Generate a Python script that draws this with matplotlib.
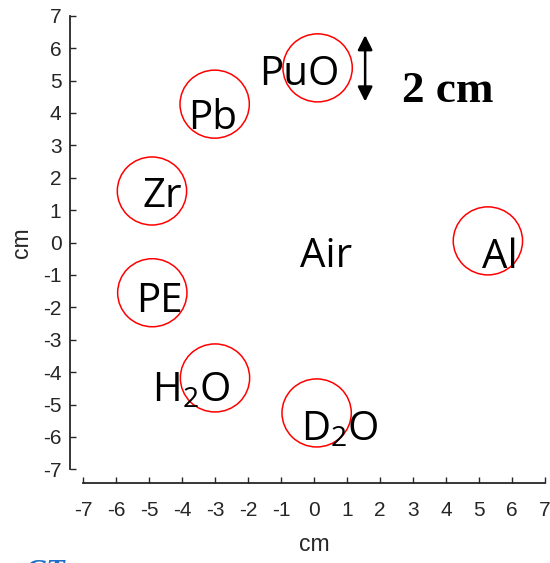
import matplotlib
matplotlib.use("Agg")
from matplotlib import pyplot as plt
from matplotlib.patches import Circle

plt.rcParams['font.family'] = ['Liberation Sans', 'DejaVu Sans']
plt.rcParams['axes.unicode_minus'] = False

# sample positions (cm) and where each material name sits
materials = ['PuO', 'Pb', 'Zr', 'PE', r'H$_\mathregular{2}$O', r'D$_\mathregular{2}$O', 'Al']
circle_x = [0.11, -3.01, -4.91, -4.90, -3.00, 0.08, 5.27]
circle_y = [5.39, 4.27, 1.59, -1.55, -4.18, -5.26, 0.05]
label_x = [-0.44, -3.06, -4.61, -4.67, -3.71, 0.78, 5.64]
label_y = [4.86, 3.49, 1.10, -2.14, -4.91, -6.10, -0.79]
radius = 1.05

air_x, air_y = 0.36, -0.75

# scale bar
bar_x = 1.55
bar_y = [4.35, 6.40]
bar_text = '2 cm'

ticks = list(range(-7, 8))

fig = plt.figure(figsize=(5.5, 5.63), dpi=100)
ax = fig.add_axes([0.1509, 0.1664, 0.84, 0.8057])
ax.set_xlim(-7, 7)
ax.set_ylim(-7, 7)

for cx, cy in zip(circle_x, circle_y):
    ax.add_patch(Circle((cx, cy), radius, fill=False, edgecolor='#ff0000', linewidth=1.1))

for name, lx, ly in zip(materials, label_x, label_y):
    ax.text(lx, ly, name, ha='center', va='baseline', fontsize=29,
            family='Open Sans', color='black')
ax.text(air_x, air_y, 'Air', ha='center', va='baseline', fontsize=29,
        family='Open Sans', color='black')

ax.annotate('', xy=(bar_x, bar_y[1]), xytext=(bar_x, bar_y[0]),
            arrowprops=dict(arrowstyle='<|-|>', color='black', lw=1.8,
                            mutation_scale=22, shrinkA=0, shrinkB=0))
ax.text(4.06, bar_y[0], bar_text, ha='center', va='baseline', fontsize=32.5,
        family='Liberation Serif', fontweight='bold', color='black')

ax.set_xticks(ticks)
ax.set_yticks(ticks)
ax.set_xticklabels([str(t) for t in ticks])
ax.set_yticklabels([str(t) for t in ticks])
ax.tick_params(direction='in', length=4, width=1, colors='#262626', labelsize=15)
ax.tick_params(axis='x', pad=13.5)
ax.tick_params(axis='y', pad=6)

ax.spines['top'].set_visible(False)
ax.spines['right'].set_visible(False)
for side in ['left', 'bottom']:
    ax.spines[side].set_position(('outward', 9.5))
    ax.spines[side].set_linewidth(1.3)
    ax.spines[side].set_color('#262626')

ax.set_xlabel('cm', fontsize=16.5, color='#262626', labelpad=9)
ax.set_ylabel('cm', fontsize=16.5, color='#262626', labelpad=7)

fig.text(25 / 550, 4 / 563, 'GT', ha='left', va='top', fontsize=22,
         family='Liberation Serif', fontweight='bold', style='italic', color='#1f6fc6')

fig.savefig('out.png', dpi=100)
